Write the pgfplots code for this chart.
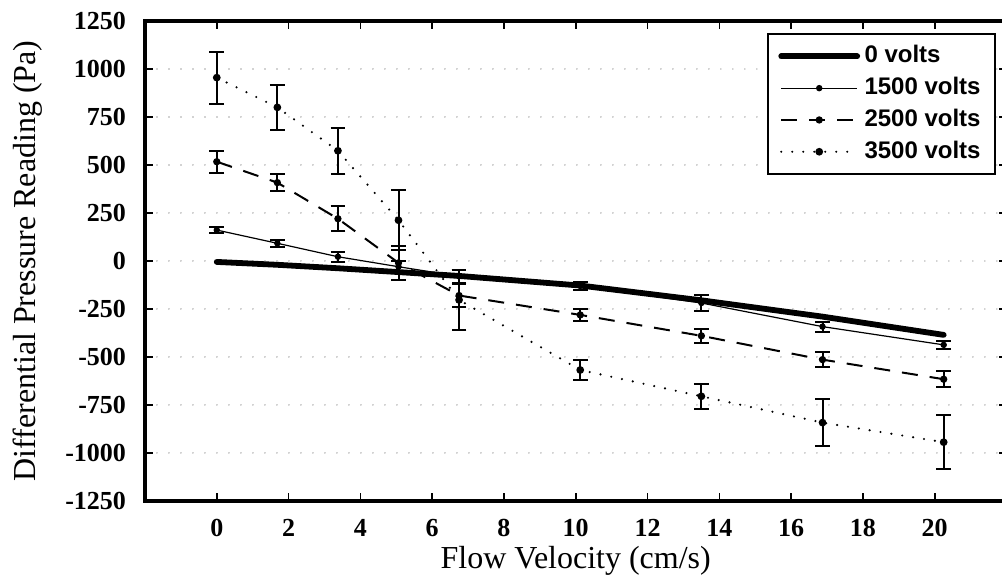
\documentclass[border=0pt]{standalone}
\usepackage{pgfplots}
\pgfplotsset{compat=1.18}
\usepackage{pgfplotstable}
\usepackage{fontspec}
\setmainfont{Liberation Serif}
\newfontfamily\legfont{Liberation Sans}

\pgfplotstableread{
x y
0 -5
1.6875 -20
3.375 -38
5.0625 -58
6.75 -78
10.125 -128
13.5 -205
16.875 -290
20.25 -385
}\zero
\pgfplotstableread{
x y e
0 161 17
1.6875 92 17
3.375 22 26
5.0625 -30 28
6.75 -80 33
10.125 -130 22
13.5 -219 42
16.875 -342 26
20.25 -437 22
}\fifteen
\pgfplotstableread{
x y e
0 517 57
1.6875 408 46
3.375 220 65
5.0625 -10 88
6.75 -180 58
10.125 -281 31
13.5 -390 36
16.875 -514 39
20.25 -616 41
}\twentyfive
\pgfplotstableread{
x y e
0 955 135
1.6875 800 118
3.375 574 120
5.0625 212 157
6.75 -203 155
10.125 -568 50
13.5 -705 64
16.875 -842 122
20.25 -944 140
}\thirtyfive

\begin{document}
\begin{tikzpicture}
\begin{axis}[
  scale only axis,
  width=430.8pt, height=240pt,
  xmin=-2, xmax=22,
  ymin=-1250, ymax=1250,
  xtick={0,2,...,20},
  xticklabels={0,2,4,6,8,10,12,14,16,18,20},
  ytick={-1250,-1000,-750,-500,-250,0,250,500,750,1000,1250},
  yticklabels={-1250,-1000,-750,-500,-250,0,250,500,750,1000,1250},
  tick align=inside,
  major tick length=4pt,
  tick style={black, line width=0.8pt},
  axis line style={line width=1.6pt},
  ymajorgrids,
  grid style={gray!70, line width=0.8pt, line cap=round, dash pattern=on 0pt off 6pt},
  tick label style={font=\fontsize{13}{15}\selectfont\bfseries},
  yticklabel style={xshift=-6pt},
  xticklabel style={yshift=-5.5pt},
  xlabel={Flow Velocity (cm/s)},
  ylabel={Differential Pressure Reading (Pa)},
  xlabel style={yshift=2pt},
  ylabel style={yshift=4.5pt},
  label style={font=\fontsize{16}{18}\selectfont},
  legend cell align=left,
  legend style={
    at={(0.9878,0.974)}, anchor=north east,
    draw=black, line width=1pt, fill=white,
    font=\legfont\bfseries\fontsize{12}{14}\selectfont,
    nodes={text height=9pt, text depth=2.5pt, inner sep=2.2pt},
    inner xsep=5pt, inner ysep=3pt,
  },
  legend image code/.code={
    \draw[mark repeat=2, mark phase=2, #1] plot coordinates {(0pt,0pt) (19pt,0pt) (38pt,0pt)};
  },
  error bars/error bar style={solid, line width=1pt, line cap=butt},
  error bars/error mark options={rotate=90, mark size=3.7pt, line width=1pt, solid},
]
\addplot[black, line width=2.9pt, line cap=round, line join=round] table[x=x,y=y] {\zero};
\addlegendentry{0 volts}

\addplot[black, line width=0.6pt, mark=*, mark size=1.3pt, mark options={solid},
  error bars/.cd, y dir=both, y explicit]
  table[x=x,y=y,y error=e] {\fifteen};
\addlegendentry{1500 volts}

\addplot[black, line width=1pt, dash pattern=on 8pt off 6pt, mark=*, mark size=1.3pt, mark options={solid},
  error bars/.cd, y dir=both, y explicit]
  table[x=x,y=y,y error=e] {\twentyfive};
\addlegendentry{2500 volts}

\addplot[black, line width=1.2pt, line cap=round, dash pattern=on 0pt off 5.5pt, mark=*, mark size=1.3pt, mark options={solid},
  error bars/.cd, y dir=both, y explicit]
  table[x=x,y=y,y error=e] {\thirtyfive};
\addlegendentry{3500 volts}
\end{axis}
\pgfresetboundingbox
\useasboundingbox ([xshift=-72.5pt,yshift=-39.5pt]current axis.south west) rectangle ([xshift=-2.25pt,yshift=10.5pt]current axis.north east);
\end{tikzpicture}
\end{document}
